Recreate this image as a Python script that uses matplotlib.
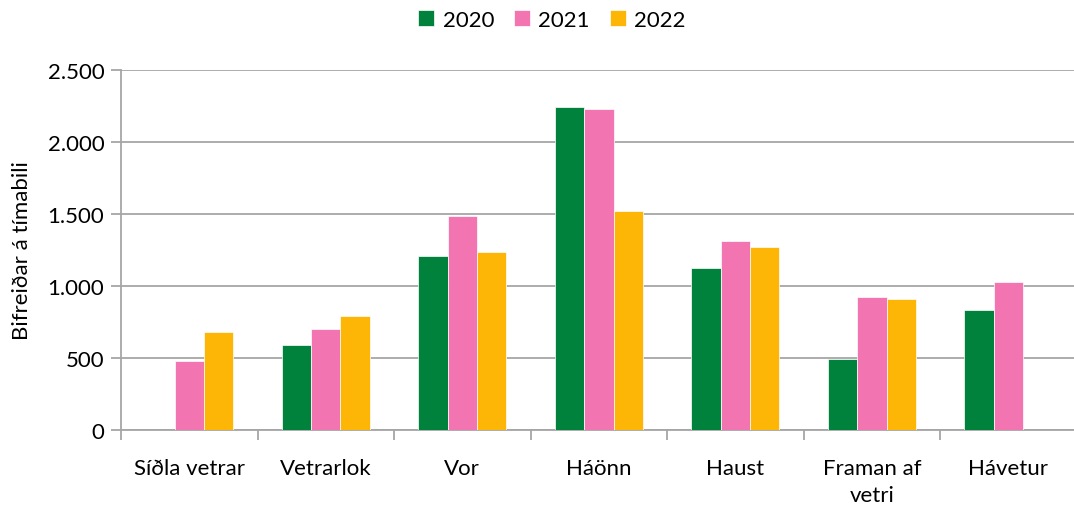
import matplotlib
matplotlib.use("Agg")
import matplotlib.pyplot as plt
import numpy as np
from matplotlib.ticker import FuncFormatter, FixedLocator

categories = ["Síðla vetrar", "Vetrarlok", "Vor", "Háönn", "Haust", "Framan af\nvetri", "Hávetur"]
years = ["2020", "2021", "2022"]
v2020 = [np.nan, 590, 1211, 2245, 1127, 493, 833]
v2021 = [481, 704, 1489, 2229, 1315, 921, 1028]
v2022 = [678, 794, 1238, 1523, 1271, 907, np.nan]
colors = ["#00813C", "#F274B0", "#FDB606"]

plt.rcParams['font.family'] = ['Lato', 'DejaVu Sans']
FS = 16

fig = plt.figure(figsize=(10.74, 5.06), dpi=100)
ax = fig.add_axes([121/1074, 1-431/506, (1074-121)/1074, 360/506])

x = np.arange(len(categories))
w = 0.215
for i, (vals, c, lab) in enumerate(zip([v2020, v2021, v2022], colors, years)):
    ax.bar(x + (i-1)*w, vals, width=w, color=c, label=lab, edgecolor='white', linewidth=0.5, zorder=3)

ax.set_ylim(0, 2500)
ax.set_xlim(-0.5, 6.48)
ax.set_yticks(np.arange(0, 2501, 500))
ax.yaxis.set_major_formatter(FuncFormatter(lambda v, p: f"{int(v):,}".replace(",", ".")))
ax.grid(axis='y', color='#A6A6A6', linewidth=1.3, zorder=0)
ax.set_xticks(x)
ax.set_xticklabels(categories, linespacing=1.45)
ax.xaxis.set_minor_locator(FixedLocator(np.arange(-0.5, 6.6, 1.0)))
ax.tick_params(axis='x', which='major', length=0, pad=20, labelsize=FS)
ax.tick_params(axis='x', which='minor', length=7, width=1.3, color='#A6A6A6', direction='out')
ax.tick_params(axis='y', length=7, width=1.3, color='#A6A6A6', labelsize=FS, pad=5)
for s in ['top', 'right']:
    ax.spines[s].set_visible(False)
for s in ['left', 'bottom']:
    ax.spines[s].set_color('#A6A6A6')
    ax.spines[s].set_linewidth(1.3)
ax.set_ylabel("Bifreiðar á tímabili", fontsize=FS, labelpad=11)

fig.legend(*ax.get_legend_handles_labels(), loc='center', bbox_to_anchor=(552/1074, 1-21/506), ncol=3, frameon=False,
           fontsize=FS, handlelength=0.7, handleheight=0.7, handletextpad=0.4, columnspacing=0.9)

fig.savefig("out.png", dpi=100)
